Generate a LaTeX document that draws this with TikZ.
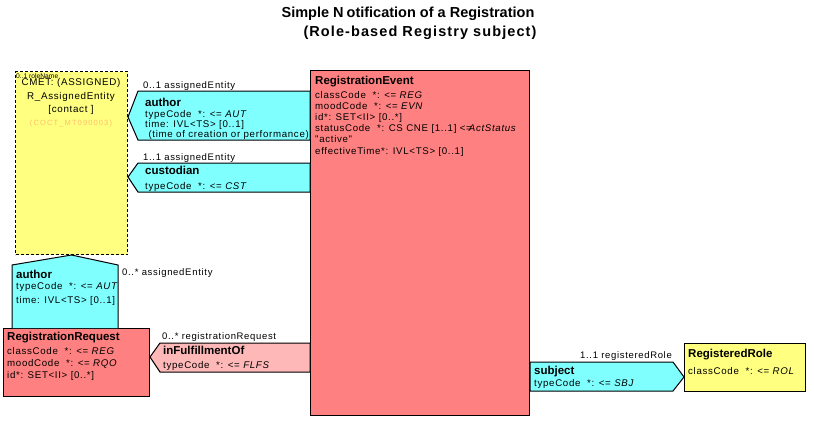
\documentclass[tikz,border=0pt]{standalone}
\usepackage{fontspec}
\setmainfont{Liberation Sans}
\newfontfamily\umlfont[LetterSpace=7]{Liberation Sans}
\newfontfamily\codefont[LetterSpace=15]{Liberation Sans}
\newfontfamily\widetitle[LetterSpace=7.5]{Liberation Sans}
\usetikzlibrary{positioning}
\definecolor{actred}{HTML}{FF8080}
\definecolor{linkcyan}{HTML}{80FFFF}
\definecolor{rolelemon}{HTML}{FFFF80}
\definecolor{linkpink}{HTML}{FFB8B8}
\definecolor{cmetcode}{HTML}{FFC070}
\tikzset{
  classbox/.style={draw, line width=1pt, anchor=north west, inner sep=0pt},
  assoc/.style={draw, line width=1pt},
  clsname/.style={font=\bfseries\fontsize{11.5}{13}\selectfont, inner sep=0pt, anchor=base west},
  % attribute blocks are placed by the baseline of their last line
  attrs/.style={font=\umlfont\fontsize{9.7}{#1}\selectfont, align=left, inner sep=0pt, anchor=base west},
  attrs/.default=11.2,
  rolename/.style={font=\umlfont\fontsize{9.5}{11}\selectfont, inner sep=0pt, anchor=base west},
  cmettext/.style={font=\umlfont\fontsize{9.8}{11}\selectfont, inner sep=0pt, anchor=base},
}
\begin{document}
\begin{tikzpicture}[x=1pt, y=-1pt]
\useasboundingbox (0,0) rectangle (814,426);

% title
\node[font=\bfseries\fontsize{14.5}{16}\selectfont, inner sep=0pt, anchor=base] (title1) at (408,17) {Simple N\kern3pt otification of a Registration};
\node[font=\widetitle\bfseries\fontsize{14.5}{16}\selectfont, inner sep=0pt, anchor=base] (title2) at (420,36) {(Role-based Registry subject)};

% classes
\node[classbox, fill=actred, minimum width=219, minimum height=345] (evt) at (310,70) {};
\node[classbox, fill=rolelemon, dashed, dash pattern=on 3pt off 2pt, minimum width=112, minimum height=183] (cmet) at (15,71) {};
\node[classbox, fill=actred, minimum width=146, minimum height=68] (req) at (3,328) {};
\node[classbox, fill=rolelemon, minimum width=121, minimum height=48] (role) at (684,343) {};

% associations
\draw[assoc, fill=linkcyan] (evt.west |- 0,91) -- (138,91) -- (cmet.east |- 0,117) -- (138,140) -- (evt.west |- 0,140) -- cycle;
\draw[assoc, fill=linkcyan] (evt.west |- 0,163) -- (138,163) -- (cmet.east |- 0,177) -- (138,192) -- (evt.west |- 0,192) -- cycle;
\draw[assoc, fill=linkcyan] (12,0 |- req.north) -- (12,265) -- (cmet.south) -- (118,265) -- (118,0 |- req.north);
\draw[assoc, fill=linkpink] (evt.west |- 0,343) -- (160,343) -- (req.east |- 0,357) -- (160,372) -- (evt.west |- 0,372) -- cycle;
\draw[assoc, fill=linkcyan] (evt.east |- 0,362) -- (673,362) -- (role.west |- 0,377) -- (673,391) -- (evt.east |- 0,391) -- cycle;

% CMET
\node[cmettext] (cmet1) at (71,85) {CMET: (ASSIGNED)};
\node[cmettext] (cmet2) at (71,99) {R\_AssignedEntity};
\node[cmettext] (cmet3) at (71,112) {[contact ]};
\node[font=\codefont\fontsize{7.5}{8}\selectfont, text=cmetcode, inner sep=0pt, anchor=base] (cmet4) at (71,125) {(COCT\_MT090003)};
\node[font=\fontsize{6.7}{7}\selectfont, inner sep=0pt, anchor=base west] (cmetrole) at (16,78) {0..1 roleName};

% RegistrationEvent
\node[clsname] (evtname) at (315,84) {RegistrationEvent};
\node[attrs] (evtattrs) at (315,154) {classCode \ *: <= \textit{REG}\\moodCode \ *: <= \textit{EVN}\\id*: SET<II> [0..*]\\statusCode \ *: CS CNE [1..1] <=\kern-3pt\textit{ActStatus}\\"active"\\effectiveTime*: IVL<TS> [0..1]};

% author (top)
\node[rolename] (authlbl) at (143,88) {0..1 assignedE\kern1pt ntity};
\node[clsname] (authname) at (145,106) {author};
\node[attrs=9.7] (authattrs) at (145,137) {typeCode \ *: <= \textit{AUT}\\time: IVL<TS> [0..1]\\\ (time of creation or performance)};

% custodian
\node[rolename] (custlbl) at (143,160) {1..1 assignedE\kern1pt ntity};
\node[clsname] (custname) at (145,174) {custodian};
\node[attrs] (custattrs) at (145,189) {typeCode \ *: <= \textit{CST}};

% author (bottom)
\node[rolename] (auth2lbl) at (122,275) {0..* assignedE\kern1pt ntity};
\node[clsname] (auth2name) at (16,278) {author};
\node[attrs=13.7] (auth2attrs) at (16,303) {typeCode \ *: <= \textit{AUT}\\time: IVL<TS> [0..1]};

% RegistrationRequest
\node[clsname] (reqname) at (7,340) {RegistrationRequest};
\node[attrs=12] (reqattrs) at (7,378) {classCode \ *: <= \textit{REG}\\moodCode \ *: <= \textit{RQO}\\id*: SET<II> [0..*]};

% inFulfillmentOf
\node[rolename] (fulflbl) at (162,339) {0..* registrationRequest};
\node[clsname] (fulfname) at (163,354) {inFulfillmentOf};
\node[attrs] (fulfattrs) at (163,368) {typeCode \ *: <= \textit{FLFS}};

% subject
\node[rolename, anchor=base east] (subjlbl) at (672,358) {1..1 registeredRole};
\node[clsname] (subjname) at (534,374) {subject};
\node[attrs] (subjattrs) at (534,386) {typeCode \ *: <= \textit{SBJ}};

% RegisteredRole
\node[clsname] (rolename) at (688,357) {RegisteredRole};
\node[attrs] (roleattrs) at (688,374) {classCode \ *: <= \textit{ROL}};
\end{tikzpicture}
\end{document}
